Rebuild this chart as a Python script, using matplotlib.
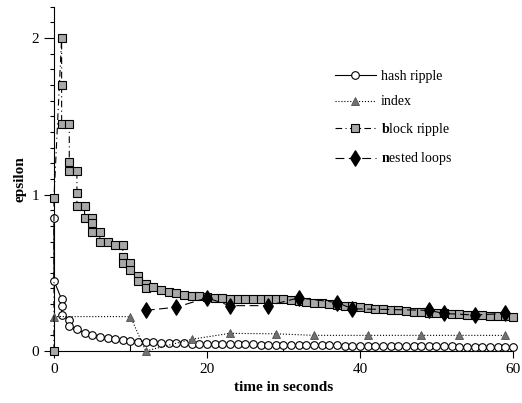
import matplotlib
matplotlib.use("Agg")
import matplotlib.pyplot as plt
from matplotlib.path import Path
from matplotlib.ticker import MultipleLocator

plt.rcParams["font.family"] = ["Liberation Serif", "DejaVu Serif"]
plt.rcParams["mathtext.fontset"] = "custom"
plt.rcParams["mathtext.rm"] = "Liberation Serif"
plt.rcParams["mathtext.bf"] = "Liberation Serif:bold"

# hash ripple
hash_t = [0, 0, 1, 1, 1, 2, 2, 3, 4, 5, 6, 7, 8, 9, 10, 11] + list(range(12, 61))
hash_eps = [0.85, 0.45, 0.33, 0.29, 0.23, 0.20, 0.16, 0.14, 0.115, 0.10, 0.09,
            0.08, 0.075, 0.07, 0.065, 0.06,
            0.057, 0.055, 0.053, 0.052, 0.050, 0.049, 0.048, 0.047, 0.046,
            0.045, 0.044, 0.044, 0.043, 0.042, 0.042, 0.041, 0.040, 0.040,
            0.039, 0.039, 0.038, 0.038, 0.037, 0.037, 0.036, 0.036, 0.035,
            0.035, 0.034, 0.034, 0.033, 0.033, 0.032, 0.032, 0.031, 0.031,
            0.030, 0.030, 0.030, 0.029, 0.029, 0.028, 0.028, 0.028, 0.027,
            0.027, 0.026, 0.026, 0.025]

# index
index_t = [0, 10, 12, 18, 23, 29, 34, 41, 48, 53, 59]
index_eps = [0.22, 0.22, 0.0, 0.075, 0.113, 0.11, 0.10, 0.10, 0.10, 0.10, 0.10]

# block ripple
block_t = [0, 0, 1, 1, 1, 2, 2, 2, 3, 3, 3, 4, 4, 5, 5, 5, 6, 6, 7, 8, 9, 9, 9,
           10, 10, 11, 11, 12, 12] + list(range(13, 61))
block_eps = [0.0, 0.98, 2.0, 1.7, 1.45, 1.45, 1.21, 1.15, 1.15, 1.01, 0.93,
             0.93, 0.85, 0.85, 0.82, 0.76, 0.76, 0.70, 0.70, 0.68, 0.68, 0.60,
             0.56, 0.56, 0.52, 0.48, 0.45, 0.43, 0.40,
             0.41, 0.39, 0.38, 0.37, 0.36, 0.35, 0.35, 0.345, 0.34, 0.34,
             0.335, 0.335, 0.335, 0.335, 0.335, 0.335, 0.335, 0.33, 0.325,
             0.32, 0.315, 0.31, 0.305, 0.30, 0.295, 0.29, 0.285, 0.28, 0.275,
             0.27, 0.27, 0.265, 0.26, 0.255, 0.25, 0.25, 0.245, 0.24, 0.24,
             0.235, 0.235, 0.23, 0.23, 0.228, 0.226, 0.224, 0.222, 0.22]

# nested loops
nested_t = [12, 16, 20, 23, 28, 32, 37, 39, 49, 51, 55, 59]
nested_eps = [0.26, 0.28, 0.34, 0.29, 0.29, 0.34, 0.31, 0.27, 0.26, 0.24, 0.23, 0.24]

# tall, narrow diamond like the reference
tall_diamond = Path([(0, 1), (0.62, 0), (0, -1), (-0.62, 0), (0, 1)],
                    [Path.MOVETO, Path.LINETO, Path.LINETO, Path.LINETO,
                     Path.CLOSEPOLY])

fig = plt.figure(figsize=(5.22, 4.03), dpi=100)
ax = fig.add_axes([0.1034, 0.129, 0.8793, 0.854])

ax.plot(hash_t, hash_eps, "-", color="black", lw=0.8, marker="o", ms=5.5,
        mfc="white", mec="black", mew=0.8, label="hash ripple", zorder=3,
        clip_on=False)
ax.plot(index_t, index_eps, ":", color="black", lw=0.8, marker="^", ms=5.5,
        mfc="#707070", mec="#505050", mew=0.6, label="index", zorder=4,
        clip_on=False)
ax.plot(block_t, block_eps, color="black", lw=0.8, ls=(0, (6, 3, 1, 3)),
        marker="s", ms=6, mfc="#a8a8a8", mec="black", mew=0.8,
        label=r"$\mathbf{b}$lock ripple", zorder=5, clip_on=False)
ax.plot(nested_t, nested_eps, color="black", lw=0.8, ls=(0, (8, 4)),
        marker=tall_diamond, ms=11, mfc="black", mec="black",
        label=r"$\mathbf{n}$ested loops", zorder=6, clip_on=False)

ax.set_xlim(0, 60)
ax.set_ylim(0, 2.2)
ax.xaxis.set_major_locator(MultipleLocator(20))
ax.xaxis.set_minor_locator(MultipleLocator(10))
ax.yaxis.set_major_locator(MultipleLocator(1))
ax.yaxis.set_minor_locator(MultipleLocator(0.1))
ax.tick_params(axis="x", which="major", direction="out", length=5, width=0.8,
               labelsize=11)
ax.tick_params(axis="x", which="minor", direction="in", length=4, width=0.8)
ax.tick_params(axis="y", which="major", direction="out", length=7, width=0.8,
               labelsize=11)
ax.tick_params(axis="y", which="minor", direction="out", length=3, width=0.8)

for s in ["top", "right"]:
    ax.spines[s].set_visible(False)
for s in ["left", "bottom"]:
    ax.spines[s].set_linewidth(0.8)

ax.set_xlabel("time in seconds", fontweight="bold", fontsize=11, labelpad=4)
ax.set_ylabel("epsilon", fontweight="bold", fontsize=11, labelpad=4)

ax.legend(loc="upper left", bbox_to_anchor=(0.584, 0.853), frameon=False,
          fontsize=10, handlelength=3, labelspacing=0.9, handletextpad=0.35)

fig.savefig("out.png", dpi=100)
